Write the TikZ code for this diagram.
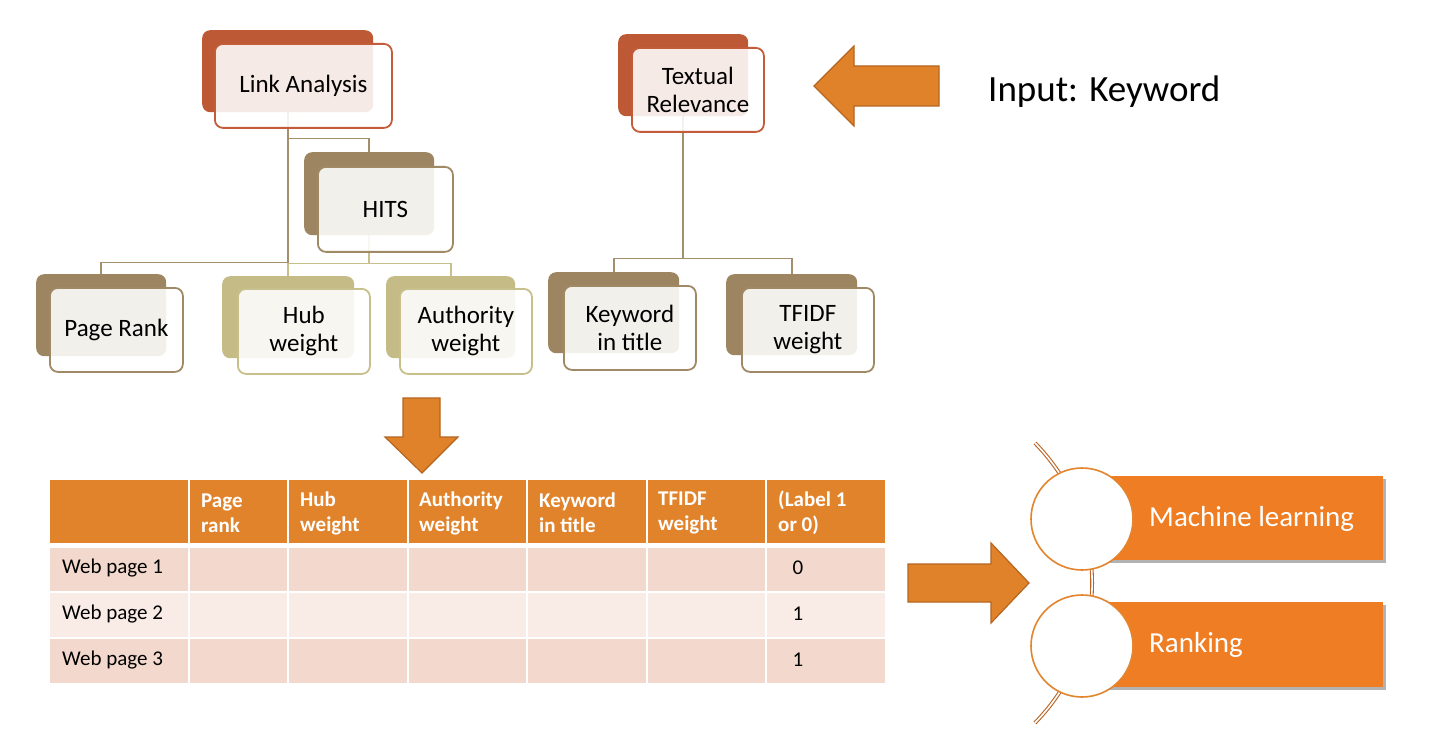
\documentclass[tikz,border=0pt]{standalone}
\usepackage{fontspec}
\setmainfont{Carlito}
\usetikzlibrary{backgrounds,shadows}
\definecolor{cRed}{HTML}{BD5A35}
\definecolor{cRedLine}{HTML}{C45C39}
\definecolor{cBrown}{HTML}{9C8560}
\definecolor{cBrownLine}{HTML}{A08965}
\definecolor{cOlive}{HTML}{C4BB87}
\definecolor{cOliveLine}{HTML}{C8C08C}
\definecolor{cConn}{HTML}{A48F6C}
\definecolor{cArrow}{HTML}{E0822A}
\definecolor{cArrowLine}{HTML}{B5651F}
\definecolor{cHead}{HTML}{E1832B}
\definecolor{cRowA}{HTML}{F3D9CD}
\definecolor{cRowB}{HTML}{F9ECE7}
\definecolor{cBox}{HTML}{EF7D23}
\definecolor{cCirc}{HTML}{E3852E}
\definecolor{cArc}{HTML}{BA6526}
\begin{document}
\begin{tikzpicture}[x=1pt,y=-1pt,
  bk/.style={rectangle, rounded corners=8pt, inner sep=0pt, anchor=north west, fill=#1},
  fr/.style={rectangle, rounded corners=8pt, inner sep=0pt, anchor=north west, draw=#1, line width=1.8pt, fill=white, fill opacity=0.88, text opacity=1, align=center, font=\fontsize{25}{28}\selectfont},
  conn/.style={draw=#1, line width=1.6pt},
  bigarrow/.style={fill=cArrow, draw=cArrowLine, line width=1.2pt, line join=miter},
  hd/.style={anchor=west, inner sep=0pt, align=left, text=white, font=\bfseries\fontsize{21}{25}\selectfont},
  cell/.style={anchor=west, inner sep=0pt, font=\fontsize{21}{25}\selectfont},
  outbox/.style={rectangle, anchor=north west, inner sep=0pt, fill=cBox, drop shadow={shadow xshift=2.5pt, shadow yshift=-2.5pt, fill=black, opacity=0.3}},
  outtext/.style={anchor=west, inner sep=0pt, text=white, font=\fontsize{29}{34}\selectfont},
  ring/.style={circle, draw=cCirc, line width=1.6pt, fill=white, minimum size=102pt, inner sep=0pt}
]
\useasboundingbox (0,0) rectangle (1430,738);

% hierarchy boxes
\node[bk=cRed, minimum width=171pt, minimum height=82pt] (laB) at (202,30) {};
\node[fr=cRedLine, minimum width=177pt, minimum height=84pt] (la) at (214,43) {Link Analysis};
\node[bk=cBrown, minimum width=130pt, minimum height=83pt] (hitsB) at (304,152) {};
\node[fr=cBrownLine, minimum width=135pt, minimum height=85pt] (hits) at (317,166) {HITS};
\node[bk=cBrown, minimum width=130pt, minimum height=82pt] (prB) at (36,274) {};
\node[fr=cBrownLine, minimum width=133pt, minimum height=84pt] (pr) at (49,287) {Page Rank};
\node[bk=cOlive, minimum width=132pt, minimum height=82pt] (hubB) at (222,276) {};
\node[fr=cOliveLine, minimum width=132pt, minimum height=85pt] (hub) at (237,288) {Hub\\weight};
\node[bk=cOlive, minimum width=129pt, minimum height=82pt] (auB) at (386,276) {};
\node[fr=cOliveLine, minimum width=132pt, minimum height=85pt] (au) at (399,288) {Authority\\weight};
\node[bk=cRed, minimum width=130pt, minimum height=82pt] (tB) at (618,34) {};
\node[fr=cRedLine, minimum width=132pt, minimum height=84pt] (tr) at (631,47) {Textual\\Relevance};
\node[bk=cBrown, minimum width=131pt, minimum height=81pt] (kwB) at (548,272) {};
\node[fr=cBrownLine, minimum width=132pt, minimum height=84pt] (kw) at (563,285) {Keyword\\in title};
\node[bk=cBrown, minimum width=131pt, minimum height=81pt] (tfB) at (726,274) {};
\node[fr=cBrownLine, minimum width=132pt, minimum height=84pt] (tf) at (741,287) {TFIDF\\weight};

\begin{pgfonlayer}{background}
\fill[white] (0,0) rectangle (1430,738);
\draw[conn=cConn] (laB.south) -- ++(0,26) -| (hitsB.north);
\draw[conn=cConn] (laB.south) -- ++(0,150) -| (prB.north);
\draw[conn=cOliveLine] (hitsB.south) -- ++(0,28) -| (hubB.north);
\draw[conn=cOliveLine] (hitsB.south) -- ++(0,28) -| (auB.north);
\draw[conn=cConn] (tB.south) -- ++(0,142) -| (kwB.north);
\draw[conn=cConn] (tB.south) -- ++(0,142) -| (tfB.north);
\end{pgfonlayer}

% input arrow and text
\draw[bigarrow] (939,66) -- (854,66) -- (854,46) -- (814,86) -- (854,126) -- (854,106) -- (939,106) -- cycle;
\node[anchor=west, inner sep=0pt, font=\fontsize{37}{42}\selectfont] (input) at (988,92) {Input: Keyword};

% down arrow
\draw[bigarrow] (403,398) -- (440,398) -- (440,437) -- (458,437) -- (422,473) -- (385,437) -- (403,437) -- cycle;

% table
\fill[cHead] (50,480) rectangle (885,543);
\fill[cRowA] (50,548) rectangle (885,591);
\fill[cRowB] (50,593) rectangle (885,637);
\fill[cRowA] (50,639) rectangle (885,683);
\foreach \cx in {189,288,408,527,647,766} {
  \draw[white, line width=2.2pt] (\cx,478) -- (\cx,685);
}
\node[hd] (h1) at (201,513) {Page\\rank};
\node[hd] (h2) at (300,513) {Hub\\weight};
\node[hd] (h3) at (419,513) {Authority\\weight};
\node[hd] (h4) at (539,513) {Keyword\\in title};
\node[hd] (h5) at (658,513) {TFIDF\\weight};
\node[hd] (h6) at (778,513) {(Label 1\\or 0)};
\node[cell] (r1) at (62,568) {Web page 1};
\node[cell] (r2) at (62,614) {Web page 2};
\node[cell] (r3) at (62,660) {Web page 3};
\node[cell, anchor=center] (v1) at (798,568) {0};
\node[cell, anchor=center] (v2) at (798,614) {1};
\node[cell, anchor=center] (v3) at (798,660) {1};

% right arrow
\draw[bigarrow] (908,564) -- (991,564) -- (991,543) -- (1029,583) -- (991,623) -- (991,602) -- (908,602) -- cycle;

% arc
\draw[draw=cArc, double=white, line width=1.1pt, double distance=1.6pt] (1035,443) arc[start angle=-44.4, end angle=44.4, radius=200];

% output boxes
\node[outbox, minimum width=301pt, minimum height=84pt] (mlbox) at (1082,476) {};
\node[outbox, minimum width=301pt, minimum height=85pt] (rkbox) at (1082,602) {};
\node[ring] (c1) at (1082,519) {};
\node[ring] (c2) at (1082,646) {};
\node[outtext] (ml) at (1149,519) {Machine learning};
\node[outtext] (rk) at (1149,645) {Ranking};
\end{tikzpicture}
\end{document}
